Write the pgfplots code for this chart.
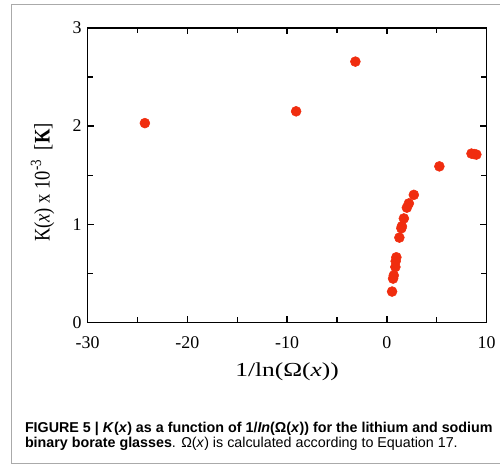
\documentclass[border=0pt]{standalone}
\usepackage{pgfplots}
\pgfplotsset{compat=1.18}
\usepackage{fontspec}
\setmainfont{Liberation Serif}
\setsansfont{Liberation Sans}
\definecolor{dotred}{RGB}{240,45,15}
\definecolor{framegray}{RGB}{170,170,170}

\begin{document}
\begin{tikzpicture}
\begin{axis}[
    name=ax,
    scale only axis,
    width=301.5pt, height=222.75pt,
    xmin=-30, xmax=10, ymin=0, ymax=3,
    xtick={-30,-20,-10,0,10},
    ytick={0,1,2,3},
    minor xtick={-25,-15,-5,5},
    minor ytick={0.5,1.5,2.5},
    tick align=inside,
    major tick length=5pt, minor tick length=4pt,
    axis line style={line width=1.1pt},
    tick style={line width=1pt, black},
    /pgf/number format/assume math mode=true,
    tick label style={font=\fontsize{13.5}{15}\selectfont},
    xticklabel style={yshift=-7pt},
    yticklabel style={xshift=-1pt},
    xlabel={\scalebox{1.28}[1]{1/ln(Ω(\textit{x}))}},
    ylabel={\scalebox{1}[1.2]{K(\textit{x}) x 10\textsuperscript{-3} \ [\textbf{K}]}},
    xlabel style={font=\fontsize{15}{17}\selectfont,
                  at={(axis description cs:0.5,-0.167)}, anchor=center},
    ylabel style={font=\fontsize{14}{16}\selectfont,
                  at={(axis description cs:-0.1128,0.475)}, anchor=center},
]
% K(x) against 1/ln(Omega(x))
\addplot[only marks, mark=*, mark size=3.75pt,
         mark options={draw=dotred, fill=dotred}] coordinates {
  (-24.26,2.03)
  (-9.1,2.15)
  (-3.16,2.656)
  (5.26,1.59)
  (8.48,1.72)
  (8.75,1.715)
  (8.97,1.71)
  (2.70,1.30)
  (2.20,1.213)
  (2.0,1.17)
  (1.70,1.06)
  (1.50,0.98)
  (1.45,0.96)
  (1.25,0.865)
  (0.95,0.665)
  (0.88,0.625)
  (0.85,0.566)
  (0.69,0.48)
  (0.62,0.448)
  (0.52,0.316)
};
\end{axis}
\path[use as bounding box] ([shift={(-66.2pt,-108pt)}]ax.south west)
  rectangle ([shift={(308.8pt,243.75pt)}]ax.south west);
% panel frame
\draw[framegray, line width=0.8pt]
  ([shift={(320pt,-106.5pt)}]ax.south west) -- ([shift={(-57.2pt,-106.5pt)}]ax.south west)
  -- ([shift={(-57.2pt,240pt)}]ax.south west)
  -- ([shift={(320pt,240pt)}]ax.south west);
% caption, one node for each line
\node[anchor=base west, inner sep=0pt,
      font=\sffamily\fontsize{10.8}{12}\selectfont]
  at ([shift={(-47.5pt,-83.25pt)}]ax.south west)
  {\textbf{FIGURE 5 | \textit{K}(\textit{x}) as a function of 1/\textit{In}(Ω(\textit{x})) for the lithium and sodium}};
\node[anchor=base west, inner sep=0pt,
      font=\sffamily\fontsize{10.8}{12}\selectfont]
  at ([shift={(-47.5pt,-94.5pt)}]ax.south west)
  {\textbf{binary borate glasses}. Ω(\textit{x}) is calculated according to Equation 17.};
\end{tikzpicture}
\end{document}
